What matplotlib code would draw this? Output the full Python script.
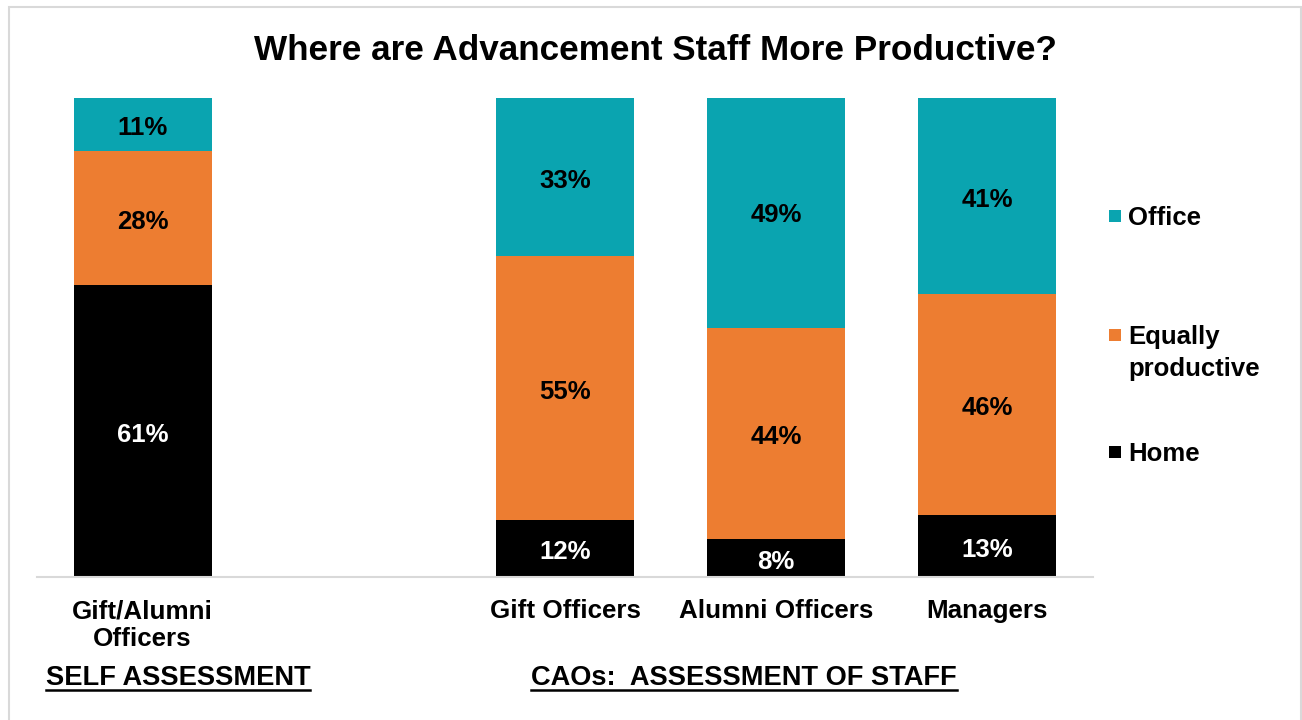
import numpy as np
import matplotlib.pyplot as plt
from matplotlib.patches import Rectangle
from matplotlib.lines import Line2D

plt.rcParams['font.family'] = ['Liberation Sans', 'DejaVu Sans']
plt.rcParams['font.weight'] = 'bold'

groups = ["Gift/Alumni\nOfficers", "Gift Officers", "Alumni Officers", "Managers"]
series = ["Home", "Equally\nproductive", "Office"]
home = [61, 12, 8, 13]
equal = [28, 55, 44, 46]
office = [11, 33, 49, 41]

colors = ["#000000", "#ED7D31", "#0AA4B0"]
label_colors = ["white", "black", "black"]
x_pos = np.array([0, 2, 3, 4])  # empty slot between self assessment and CAO groups

W, H = 1302, 720
fig = plt.figure(figsize=(W / 100, H / 100), dpi=100)
ax = fig.add_axes([37 / W, 1 - 577 / H, (1093 - 37) / W, (577 - 98) / H])

bottom = np.zeros(len(groups))
for vals, name, col, lcol in zip([home, equal, office], series, colors, label_colors):
    vals = np.array(vals, dtype=float)
    ax.bar(x_pos, vals, width=0.654, bottom=bottom, color=col, label=name)
    for x, b, v in zip(x_pos, bottom, vals):
        ax.text(x, b + v / 2 - 0.3, f"{int(v)}%", ha='center', va='center_baseline',
                fontsize=18.5, color=lcol, fontweight='bold')
    bottom += vals

ax.set_xlim(-0.5, 4.5)
ax.set_ylim(0, 100)
ax.set_xticks(x_pos)
ax.set_xticklabels(groups, fontsize=18.7, fontweight='bold', linespacing=1.2)
ax.tick_params(axis='x', length=0, pad=16)
ax.set_yticks([])
for s in ['top', 'right', 'left']:
    ax.spines[s].set_visible(False)
ax.spines['bottom'].set_color('#d9d9d9')
ax.spines['bottom'].set_linewidth(1.5)

fig.text(655 / W, 1 - 50 / H, "Where are Advancement Staff More Productive?",
         ha='center', va='center', fontsize=25.3, fontweight='bold')

# legend, top to bottom: Office, Equally productive, Home
legend_items = [(2, 216), (1, 335), (0, 452)]
for idx, yc in legend_items:
    fig.add_artist(Rectangle((1109 / W, 1 - (yc + 6) / H), 12 / W, 12 / H,
                             transform=fig.transFigure, color=colors[idx], lw=0))
    fig.text(1128 / W, 1 - (yc - 10) / H, series[idx], ha='left', va='top',
             fontsize=18.5, fontweight='bold', linespacing=1.4)

# underlined section headings
fig.canvas.draw()
renderer = fig.canvas.get_renderer()
for txt, xc in [("SELF ASSESSMENT", 178), ("CAOs:  ASSESSMENT OF STAFF", 744)]:
    t = fig.text(xc / W, 1 - 678 / H, txt, ha='center', va='center',
                 fontsize=19.6, fontweight='bold')
    bb = t.get_window_extent(renderer).transformed(fig.transFigure.inverted())
    fig.add_artist(Line2D([bb.x0, bb.x1], [bb.y0 + 0.002, bb.y0 + 0.002],
                          transform=fig.transFigure, color='black', lw=1.8))

# thin frame round the chart area
fig.add_artist(Rectangle((8.5 / W, -0.01), (1300.5 - 8.5) / W, 1.01 - 7 / H,
                         transform=fig.transFigure, fill=False, edgecolor='#d9d9d9', lw=1.5))

fig.savefig("out.png", dpi=100)
